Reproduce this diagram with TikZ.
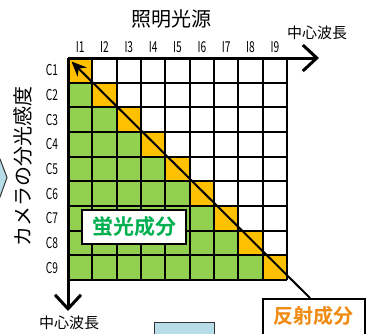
\documentclass[tikz,border=0pt]{standalone}
\usepackage{fontspec}
\newfontfamily\jp{Noto Sans CJK JP}
\newfontfamily\jpb{Noto Sans CJK JP Bold}
\usetikzlibrary{arrows.meta}
\definecolor{cellgreen}{HTML}{92D050}
\definecolor{cellorange}{HTML}{FFC000}
\definecolor{txtgreen}{HTML}{00B050}
\definecolor{txtorange}{HTML}{F08A10}
\definecolor{paleblue}{HTML}{B7DEE8}
\tikzset{
  cellline/.style={draw=black, line width=1.9pt},
  axislabel/.style={font=\jp\fontsize{15}{15}\selectfont, inner sep=0pt},
  ticklabel/.style={font=\jp\fontsize{15}{15}\selectfont, inner sep=0pt},
  tagbox/.style={draw=black, line width=1.6pt, fill=white, minimum width=102pt, minimum height=35pt, inner sep=0pt},
  paleshape/.style={fill=paleblue, draw=black!80, line width=1pt}
}
\begin{document}
\begin{tikzpicture}[x=1pt,y=-1pt]
\useasboundingbox (0,0) rectangle (374,333);
\clip (0,0) rectangle (374,333);
% partial shapes at the edges
\draw[paleshape] (-5,159) -- (0,159) -- (7,177.5) -- (0,197) -- (-5,197) -- cycle;
\draw[paleshape] (154,322) rectangle (214,345);
% cells
\pgfmathsetmacro{\cw}{219/9}
\pgfmathsetmacro{\ch}{222/9}
\foreach \i in {1,...,9}{
  \foreach \j in {1,...,9}{
    \pgfmathsetmacro{\xa}{68+(\j-1)*\cw}
    \pgfmathsetmacro{\ya}{58+(\i-1)*\ch}
    \ifnum\j<\i
      \fill[cellgreen] (\xa,\ya) rectangle ++(\cw,\ch);
    \else\ifnum\j=\i
      \fill[cellorange] (\xa,\ya) rectangle ++(\cw,\ch);
    \fi\fi
  }
}
\foreach \k in {0,...,9}{
  \draw[cellline] ({68+\k*\cw},58) -- ({68+\k*\cw},280);
  \draw[cellline] (68,{58+\k*\ch}) -- (287,{58+\k*\ch});
}
% column and row labels
\foreach \k in {1,...,9}{
  \node[ticklabel] (i\k) at ({68+(\k-0.5)*\cw},47) {\scalebox{0.68}[1]{I\k}};
  \node[ticklabel] (c\k) at (52,{58+(\k-0.5)*\ch}) {\scalebox{0.68}[1]{C\k}};
}
% axes
\coordinate (o) at (68,58);
\coordinate (xend) at (319,58);
\coordinate (yend) at (68,311);
\draw[line width=3pt, -{Straight Barb[length=14pt,width=26pt,line width=3pt]}] (o) -- (xend);
\draw[line width=3pt, -{Straight Barb[length=14pt,width=26pt,line width=3pt]}] (o) -- (yend);
% titles
\node[font=\jp\fontsize{20}{20}\selectfont, inner sep=0pt] (title) at (171,19) {照明光源};
\node[axislabel] (xlab) at (317,33) {中心波長};
\node[axislabel] (ylab) at (69,323) {中心波長};
\node[font=\jp\fontsize{20}{20}\selectfont, inner sep=0pt, rotate=90] (cam) at (23,166) {カメラの分光感度};
% tags
\node[tagbox, minimum width=104pt, minimum height=34pt] (fluo) at (134,227) {};
\node[font=\jpb\fontsize{21}{21}\selectfont, text=txtgreen, inner sep=0pt] (fluotxt) at (fluo) {蛍光成分};
\node[tagbox, anchor=north west, minimum width=102pt, minimum height=40pt] (refl) at (262,298) {};
\node[font=\jpb\fontsize{20}{20}\selectfont, text=txtorange, inner sep=0pt] (refltxt) at (313,316) {反射成分};
% diagonal arrow
\coordinate (dtip) at (71.5,61.5);
\draw[line width=2pt, -{Stealth[length=15pt,width=13pt]}] (310,298) -- (dtip);
\end{tikzpicture}
\end{document}
